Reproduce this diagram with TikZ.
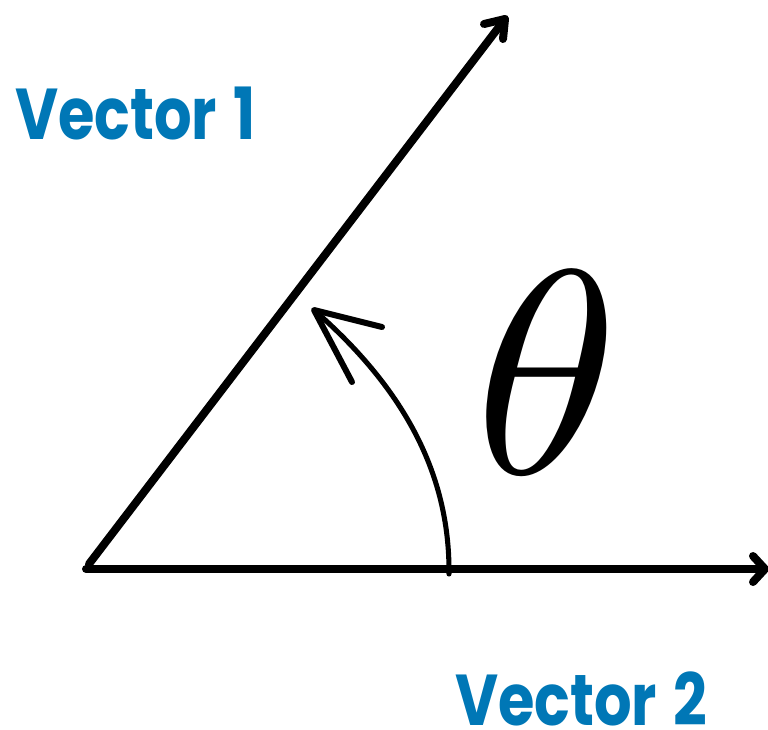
\documentclass[tikz,border=0pt]{standalone}
\usepackage{fontspec}
\newfontfamily\vecfont{Poppins}
\definecolor{vblue}{RGB}{0,119,182}
\begin{document}
\begin{tikzpicture}[x=0.75pt,y=-0.75pt,
  vecline/.style={line width=6pt,line cap=round,line join=round},
  barb/.style={line width=6pt,line cap=round,line join=round},
  anglearc/.style={line width=3.8pt,line cap=round},
  anglebarb/.style={line width=4.5pt,line cap=round,line join=round},
  veclabel/.style={anchor=base west,inner sep=0pt,xscale=0.82,text=vblue,font=\vecfont\bfseries\fontsize{54}{54}\selectfont}]
\useasboundingbox (0,0) rectangle (768,729);
% points
\coordinate (O) at (86,569);
\coordinate (O1) at (89,564);
\coordinate (T1) at (505,19);
\coordinate (T2) at (765,569);
\coordinate (A0) at (449,574);
\coordinate (AT) at (314,310);
% vector 2 (horizontal)
\draw[vecline] (O) -- (T2);
\draw[barb] (753,556) -- (T2) -- (753,582);
% vector 1
\draw[vecline] (O1) -- (T1);
\draw[barb] (484,24) -- (T1) -- (503,39);
% angle arc
\draw[anglearc] (A0) .. controls (450,470) and (400,385) .. (AT);
\draw[anglebarb] (382,327) -- (AT) -- (352,382);
% labels
\node[veclabel] (v1) at (15,139) {Vector~\hspace{3pt}1};
\node[veclabel] (v2) at (455,725) {Vector~\hspace{3pt}2};
\node[inner sep=0pt,scale=21.8] (th) at (547,373) {$\theta$};
\end{tikzpicture}
\end{document}
